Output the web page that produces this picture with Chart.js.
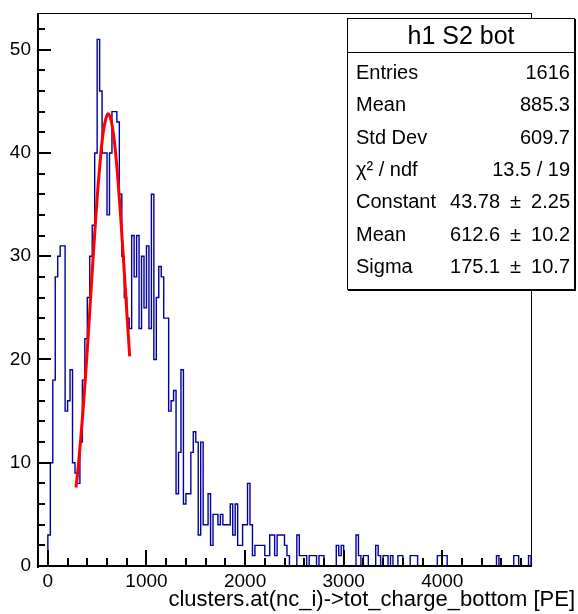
<!DOCTYPE html>
<html>
<head>
<meta charset="utf-8">
<script src="https://cdn.jsdelivr.net/npm/chart.js@4.4.1/dist/chart.umd.min.js"></script>
<style>
html,body{margin:0;padding:0;background:#fff;}
#wrap{position:relative;width:578px;height:614px;overflow:hidden;font-family:"Liberation Sans",Arial,Helvetica,sans-serif;color:#000;}
#c{position:absolute;left:0;top:0;}
#stats{position:absolute;left:347px;top:18px;width:226px;height:270px;border:1px solid #000;background:#fff;box-shadow:1px 1px 0 #000;}
#stats .title{position:absolute;left:0;right:0;top:0;height:33px;line-height:33px;text-align:center;font-size:25px;}
#stats .sep{position:absolute;left:0;right:0;top:33px;height:0;border-top:1px solid #000;}
#stats .row{position:absolute;left:8px;right:4px;height:24px;line-height:24px;font-size:20px;}
#stats .row .l{position:absolute;left:0;top:0;}
#stats .row .v{position:absolute;right:0;top:0;white-space:pre;}
#xtitle{position:absolute;right:3px;top:587px;font-size:22px;line-height:24px;white-space:nowrap;}
</style>
</head>
<body>
<div id="wrap">
<canvas id="c" width="578" height="614"></canvas>
<div id="stats"></div>
<div id="xtitle"></div>
</div>
<script>
// ---- data ----
const xMin = -100;
const xMax = 4900;
const binWidth = 25;
const counts = [
 0,0,0,0,3,10,18,28,30,31,
 31,15,16,19,10,9,8,12,18,22,
 26,30,33,40,51,46,40,40,34,40,
 44,44,43,36,30,26,24,23,32,28,
 32,23,30,25,31,23,36,20,26,29,
 28,24,24,15,16,17,7,11,19,6,
 7,7,11,13,12,3,12,4,4,7,
 2,5,5,4,5,4,4,4,6,3,
 6,2,2,4,4,8,4,1,2,2,
 2,2,1,1,3,3,1,3,3,3,
 2,1,0,0,0,3,1,1,1,0,
 1,1,1,0,1,1,0,0,0,0,
 0,2,1,2,0,0,0,0,0,3,
 1,0,1,1,0,0,0,2,1,0,
 1,1,0,1,0,0,1,1,0,0,
 0,1,1,1,0,0,0,0,0,0,
 0,0,1,1,1,1,0,0,0,0,
 0,0,0,0,0,0,0,0,0,0,
 0,0,0,0,0,0,1,0,0,0,
 0,0,0,1,1,0,0,0,0,1
];
const fitX = [285,310,335,360,385,410,435,460,485,510,535,560,585,610,635,660,685,710,735,760,785,810,830];
const fitY = [7.6,9.8,12.5,15.5,18.8,22.4,26.2,30.0,33.6,36.9,39.7,41.9,43.2,43.8,43.4,42.2,40.2,37.5,34.3,30.7,27.0,23.2,20.3];
const xTickLabels = [0,1000,2000,3000,4000];
const yTickLabels = [0,10,20,30,40,50];
const yMax = 53.55;
const statsTitle = "h1 S2 bot";
const statLabels = ["Entries","Mean","Std Dev","\u03C7\u00B2 / ndf","Constant","Mean","Sigma"];
const statValues = ["1616","885.3","609.7","13.5 / 19","43.78\u2002\u00B1\u20022.25","612.6\u2002\u00B1\u200210.2","175.1\u2002\u00B1\u200210.7"];
const xTitle = "clusters.at(nc_i)->tot_charge_bottom [PE]";

// ---- build datasets ----
const histPoints = counts.map((c,i)=>({x:xMin + i*binWidth, y:c}));
histPoints.push({x:xMax, y:0});
const fitPoints = fitX.map((x,i)=>({x:x, y:fitY[i]}));

const FONT = '"Liberation Sans", Arial, Helvetica, sans-serif';

const framePlugin = {
  id:'frameTicks',
  afterDraw(chart){
    const ctx = chart.ctx;
    const a = chart.chartArea;
    const xs = chart.scales.x, ys = chart.scales.y;
    ctx.save();
    ctx.fillStyle = '#000';
    ctx.fillRect(a.left, a.top, a.right - a.left + 1, 1);
    ctx.fillRect(a.right, a.top, 1, a.bottom - a.top + 1);
    ctx.fillRect(a.left - 1, a.top, 2, a.bottom - a.top + 2);
    ctx.fillRect(a.left - 1, a.bottom - 1, a.right - a.left + 2, 2);
    for (let k = 0; k <= 24; k++) {
      const v = k * 200;
      const px = Math.round(xs.getPixelForValue(v));
      const len = (v % 1000 === 0) ? 16 : 8;
      ctx.fillRect(px - 1, a.bottom - len, 2, len);
    }
    for (let k = 0; k <= 26; k++) {
      const v = k * 2;
      const py = Math.round(ys.getPixelForValue(v));
      const len = (v % 10 === 0) ? 13 : 7;
      ctx.fillRect(a.left, py - 1, len, 2);
    }
    ctx.restore();
  }
};

new Chart(document.getElementById('c'), {
  type:'line',
  data:{
    datasets:[
      {data:fitPoints, borderColor:'#ff0000', borderWidth:3, pointRadius:0, cubicInterpolationMode:'monotone', fill:false},
      {data:histPoints, borderColor:'#0000a0', borderWidth:1.4, pointRadius:0, stepped:'before', fill:false, clip:3}
    ]
  },
  options:{
    responsive:false, animation:false,
    layout:{padding:{left:0,right:47,top:13,bottom:0}},
    plugins:{legend:{display:false}, tooltip:{enabled:false}},
    scales:{
      x:{type:'linear', min:xMin, max:xMax,
         grid:{display:false, drawTicks:false}, border:{display:false},
         afterBuildTicks:s=>{ s.ticks = xTickLabels.map(v=>({value:v})); },
         afterFit:s=>{ s.height = 48; s.paddingLeft = 0; s.paddingRight = 0; },
         ticks:{font:{family:FONT,size:19}, color:'#000', padding:4, maxRotation:0, autoSkip:false, callback:v=>String(v)}},
      y:{type:'linear', min:0, max:yMax,
         grid:{display:false, drawTicks:false}, border:{display:false},
         afterBuildTicks:s=>{ s.ticks = yTickLabels.map(v=>({value:v})); },
         afterFit:s=>{ s.width = 38; s.paddingTop = 0; s.paddingBottom = 0; },
         ticks:{font:{family:FONT,size:19}, color:'#000', padding:7, autoSkip:false, callback:v=>String(v)}}
    }
  },
  plugins:[framePlugin]
});

// ---- stats box (real text) ----
const st = document.getElementById('stats');
const t = document.createElement('div'); t.className='title'; t.textContent = statsTitle; st.appendChild(t);
const sp = document.createElement('div'); sp.className='sep'; st.appendChild(sp);
const rowCenters = [53,85.3,117.7,150,182.3,214.7,247];
statLabels.forEach((lab,i)=>{
  const r = document.createElement('div'); r.className='row'; r.style.top = (rowCenters[i]-12)+'px';
  const l = document.createElement('span'); l.className='l'; l.textContent = lab;
  const v = document.createElement('span'); v.className='v'; v.textContent = statValues[i];
  r.appendChild(l); r.appendChild(v); st.appendChild(r);
});
document.getElementById('xtitle').textContent = xTitle;
</script>
</body>
</html>
